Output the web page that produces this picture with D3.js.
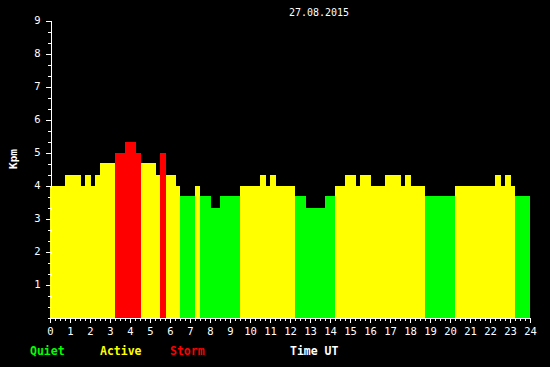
<!DOCTYPE html>
<html>
<head>
<meta charset="utf-8">
<script src="https://cdn.jsdelivr.net/npm/d3@7"></script>
<style>
html, body { margin: 0; padding: 0; background: #000; }
svg { display: block; }
text { font-family: "DejaVu Sans Mono", "Liberation Mono", monospace; fill: #fff; }
</style>
</head>
<body>
<svg id="chart" width="550" height="367"></svg>
<script>
// Data: intervals (hours UT) and Kp values (in thirds)
const startHours = [0, 0.75, 1.55, 1.75, 2.05, 2.25, 2.5, 3.25, 3.75, 4.3, 4.55, 5.3, 5.5, 5.8, 6.3, 6.5, 7.25, 7.5, 8.05, 8.5,
  9.5, 10.5, 10.8, 11.0, 11.3, 12.25, 12.8, 13.75, 14.25, 14.75, 15.3, 15.5, 16.05, 16.75, 17.55, 17.75, 18.05, 18.75,
  20.25, 22.25, 22.55, 22.75, 23.05, 23.25];
const endHours = [0.75, 1.55, 1.75, 2.05, 2.25, 2.5, 3.25, 3.75, 4.3, 4.55, 5.3, 5.5, 5.8, 6.3, 6.5, 7.25, 7.5, 8.05, 8.5, 9.5,
  10.5, 10.8, 11.0, 11.3, 12.25, 12.8, 13.75, 14.25, 14.75, 15.3, 15.5, 16.05, 16.75, 17.55, 17.75, 18.05, 18.75, 20.25,
  22.25, 22.55, 22.75, 23.05, 23.25, 24];
const kpValues = [4, 4.33, 4, 4.33, 4, 4.33, 4.67, 5, 5.33, 5, 4.67, 4.33, 5, 4.33, 4, 3.67, 4, 3.67, 3.33, 3.67,
  4, 4.33, 4, 4.33, 4, 3.67, 3.33, 3.67, 4, 4.33, 4, 4.33, 4, 4.33, 4, 4.33, 4, 3.67,
  4, 4.33, 4, 4.33, 4, 3.67];
const xTicks = d3.range(0, 25);
const yTicks = d3.range(1, 10);
const legendLabels = ["Quiet", "Active", "Storm"];
const legendColors = ["#00ff00", "#ffff00", "#ff0000"];
const titleText = "27.08.2015";

const bars = startHours.map((s, i) => ({ s, e: endHours[i], v: kpValues[i] }));
const colorOf = v => v >= 5 ? legendColors[2] : (v >= 4 ? legendColors[1] : legendColors[0]);

const svg = d3.select("#chart");
svg.append("rect").attr("width", 550).attr("height", 367).attr("fill", "#000");

const x = d3.scaleLinear().domain([0, 24]).range([50, 530]);
const y = d3.scaleLinear().domain([0, 9]).range([317.5, 20.5]);

svg.append("g").selectAll("rect").data(bars).join("rect")
  .attr("x", d => x(d.s))
  .attr("width", d => x(d.e) - x(d.s))
  .attr("y", d => y(d.v))
  .attr("height", d => y(0) - y(d.v))
  .attr("fill", d => colorOf(d.v))
  .attr("shape-rendering", "crispEdges");

// Y axis minor ticks (thirds)
const yMinor = svg.append("g").attr("transform", "translate(50.5,0)")
  .call(d3.axisLeft(y).tickValues(d3.range(0, 27).map(i => i / 3)).tickSize(3).tickSizeOuter(0).tickFormat(""));
const yMajor = svg.append("g").attr("transform", "translate(50.5,0)")
  .call(d3.axisLeft(y).tickValues(yTicks).tickSize(5).tickSizeOuter(0).tickPadding(5));
[yMinor, yMajor].forEach(g => {
  g.selectAll("line").attr("stroke", "#fff").attr("shape-rendering", "crispEdges");
  g.select(".domain").attr("stroke", "#fff").attr("shape-rendering", "crispEdges");
});
yMajor.selectAll("text").attr("fill", "#fff").attr("font-size", "10.5px")
  .style("font-family", "'DejaVu Sans Mono', monospace");

// X axis
const xMinor = svg.append("g").attr("transform", "translate(0,318)")
  .call(d3.axisBottom(x).tickValues(d3.range(0, 97).map(i => i / 4)).tickSize(3).tickSizeOuter(0).tickFormat(""));
const xMajor = svg.append("g").attr("transform", "translate(0,318)")
  .call(d3.axisBottom(x).tickValues(xTicks).tickSize(5).tickSizeOuter(0).tickPadding(5));
[xMinor, xMajor].forEach(g => {
  g.selectAll("line").attr("stroke", "#fff").attr("shape-rendering", "crispEdges");
  g.select(".domain").attr("stroke", "#fff").attr("shape-rendering", "crispEdges");
});
xMajor.selectAll("text").attr("fill", "#fff").attr("font-size", "10.5px")
  .style("font-family", "'DejaVu Sans Mono', monospace");

// Title
svg.append("text").attr("x", 319).attr("y", 16).attr("text-anchor", "middle")
  .attr("font-size", "10px").text(titleText);

// Y label
svg.append("text").attr("transform", "translate(17,159) rotate(-90)").attr("text-anchor", "middle")
  .attr("font-size", "11px").attr("font-weight", "bold").text("Kpm");

// Legend
const legendX = [30, 100, 170];
legendLabels.forEach((t, i) => {
  svg.append("text").attr("x", legendX[i]).attr("y", 355)
    .attr("font-size", "11.5px").attr("font-weight", "bold")
    .style("fill", legendColors[i]).text(t);
});
svg.append("text").attr("x", 290).attr("y", 355)
  .attr("font-size", "11.5px").attr("font-weight", "bold").text("Time UT");
</script>
</body>
</html>
